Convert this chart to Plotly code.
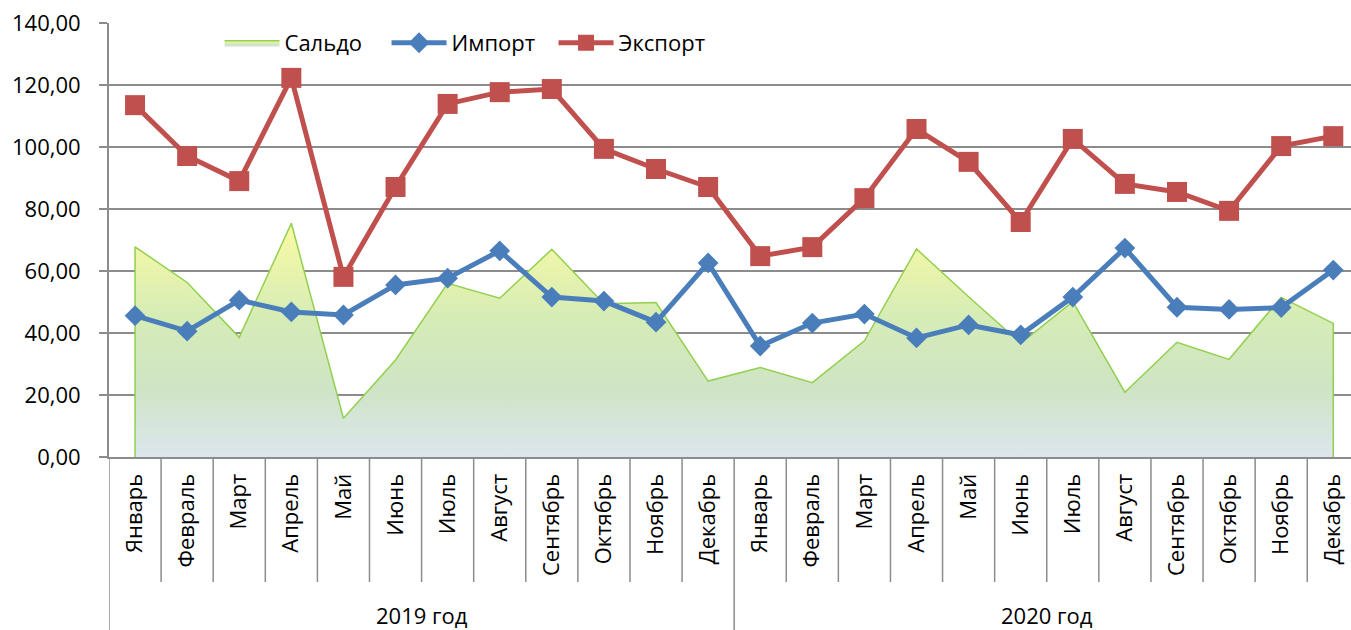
import plotly.graph_objects as go

# Данные по месяцам
MONTHS = ["Январь", "Февраль", "Март", "Апрель", "Май", "Июнь",
          "Июль", "Август", "Сентябрь", "Октябрь", "Ноябрь", "Декабрь"]
YEARS = ["2019 год", "2020 год"]

saldo = [67.8, 56.3, 38.6, 75.4, 12.5, 31.3, 56.0, 51.2, 67.0, 49.4, 49.8, 24.5,
         28.9, 24.0, 37.5, 67.1, 51.7, 36.7, 50.1, 20.9, 37.0, 31.5, 51.5, 43.1]
importe = [45.6, 40.6, 50.6, 46.8, 45.8, 55.5, 57.7, 66.5, 51.6, 50.3, 43.5, 62.6,
           35.8, 43.2, 46.1, 38.4, 42.6, 39.4, 51.6, 67.4, 48.3, 47.6, 48.2, 60.3]
exporte = [113.5, 97.1, 89.0, 122.3, 58.1, 87.1, 113.9, 117.7, 118.7, 99.4, 92.9, 87.1,
           64.8, 67.7, 83.5, 105.8, 95.2, 75.8, 102.6, 88.1, 85.5, 79.4, 100.3, 103.5]

labels = MONTHS * len(YEARS)
x = list(range(len(labels)))

FONT = "Open Sans"
GRIS = "#8c8c8c"
TAILLE = 22

fig = go.Figure()

# Сальдо : zone avec dégradé vertical, bords verticaux aux extrémités
fig.add_trace(go.Scatter(
    x=[x[0]] + x + [x[-1]],
    y=[0] + saldo + [0],
    mode="lines",
    name="Сальдо",
    line=dict(color="#92d050", width=1.5),
    fill="tozeroy",
    fillgradient=dict(
        type="vertical",
        colorscale=[[0, "#dce6ee"], [0.3, "#cfe4c4"], [0.6, "#d6ecb6"], [1, "#fafaa3"]],
    ),
))

fig.add_trace(go.Scatter(
    x=x, y=importe, mode="lines+markers", name="Импорт",
    line=dict(color="#4a7ebb", width=5),
    marker=dict(symbol="diamond", size=16, color="#4a7ebb"),
))

fig.add_trace(go.Scatter(
    x=x, y=exporte, mode="lines+markers", name="Экспорт",
    line=dict(color="#c0504d", width=5),
    marker=dict(symbol="square", size=20, color="#c0504d"),
))

# Séparateurs de catégories sous l'axe
n = len(labels)
shapes = []
for i in range(n + 1):
    b = i - 0.5
    bord_annee = i % len(MONTHS) == 0
    shapes.append(dict(
        type="line", xref="x", yref="paper",
        x0=b, x1=b, y0=0, y1=-0.40 if bord_annee else -0.288,
        line=dict(color=GRIS, width=1.5),
    ))

annotations = []
for k, annee in enumerate(YEARS):
    centre = k * len(MONTHS) + (len(MONTHS) - 1) / 2
    annotations.append(dict(
        x=centre, xref="x", y=-0.364, yref="paper",
        text=annee, showarrow=False, yanchor="middle",
        font=dict(family=FONT, size=TAILLE, color="black"),
    ))

fig.update_layout(
    width=1351, height=630,
    margin=dict(l=109, r=0, t=23, b=173, autoexpand=False),
    paper_bgcolor="white", plot_bgcolor="white",
    separators=", ",
    font=dict(family=FONT, size=TAILLE, color="black"),
    showlegend=True,
    legend=dict(
        orientation="h", x=0.089, y=0.954, yanchor="middle", xanchor="left",
        itemwidth=55, entrywidth=97, bgcolor="rgba(0,0,0,0)",
        font=dict(family=FONT, size=TAILLE),
    ),
    shapes=shapes,
    annotations=annotations,
)

fig.update_xaxes(
    range=[-0.5, 23.34], automargin=False,
    tickmode="array", tickvals=x, ticktext=labels,
    tickangle=-90, ticks="", ticklabelstandoff=6,
    showline=True, linecolor=GRIS, linewidth=2,
    showgrid=False, zeroline=False,
    tickfont=dict(family=FONT, size=TAILLE),
)

fig.update_yaxes(
    range=[0, 140], tick0=0, dtick=20, tickformat=".2f", automargin=False,
    showgrid=True, gridcolor=GRIS, gridwidth=2,
    showline=True, linecolor=GRIS, linewidth=2,
    ticks="outside", ticklen=8, tickcolor=GRIS, tickwidth=2,
    ticklabelstandoff=14, zeroline=False,
    tickfont=dict(family=FONT, size=TAILLE),
)

# la page ajoute une marge de 8 px autour du graphique : on la retire
fig.write_html("out.html", config={"displayModeBar": False},
               post_script="document.body.style.margin='0';")
